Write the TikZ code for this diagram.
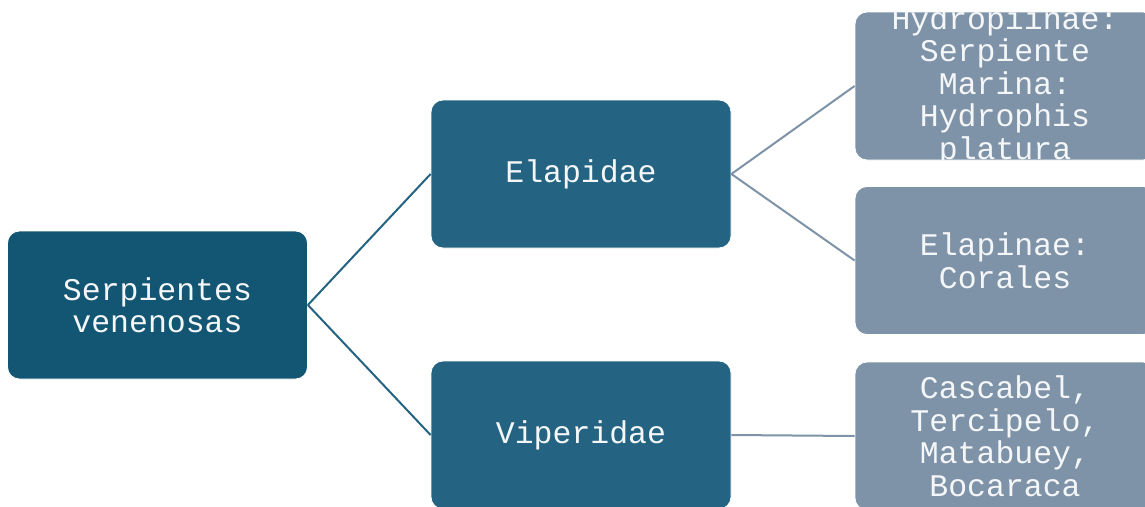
\documentclass[tikz,border=0pt]{standalone}
\usepackage{fontspec}
\setmonofont{Liberation Mono}
\usepackage{tikz}

\definecolor{rootblue}{HTML}{135673}
\definecolor{famblue}{HTML}{246482}
\definecolor{leafgray}{HTML}{7E93A8}
\definecolor{txt}{HTML}{F4F6F8}

\begin{document}
\begin{tikzpicture}[
      x=1pt,y=-1pt,
      box/.style={
        draw=white,line width=0.8pt,rounded corners=12pt,
        minimum width=300pt,minimum height=148pt,inner sep=0pt
      },
      label/.style={
        text=txt,align=center,inner sep=0pt,
        font=\ttfamily\fontsize{31.5}{32.5}\selectfont
      },
    ]
    \useasboundingbox (0,0) rectangle (1145,506);
    % snakes, families, species
    \node[box,fill=rootblue,label] (root) at (157.5,305) {Serpientes\\venenosas};
    \node[box,fill=famblue,label] (ela) at (581,174) {Elapidae};
    \node[box,fill=famblue,label] (vip) at (581,435) {Viperidae};
    \node[box,fill=leafgray] (hyd) at (1005,86) {};
    \node[box,fill=leafgray] (cor) at (1005,260.5) {};
    \node[box,fill=leafgray] (cas) at (1005,436) {};
    \begin{scope}
      \clip[rounded corners=12pt] (hyd.south west) rectangle (hyd.north east);
      \node[label] at (hyd) {Hydropiinae:\\Serpiente\\Marina:\\Hydrophis\\platura};
    \end{scope}
    \node[label] at (cor) {Elapinae:\\Corales};
    \node[label] at (cas) {Cascabel,\\Tercipelo,\\Matabuey,\\Bocaraca};
    \draw[line width=2pt,color=famblue] (root.east) -- (ela.west);
    \draw[line width=2pt,color=famblue] (root.east) -- (vip.west);
    \draw[line width=2pt,color=leafgray] (ela.east) -- (hyd.west);
    \draw[line width=2pt,color=leafgray] (ela.east) -- (cor.west);
    \draw[line width=2pt,color=leafgray] (vip.east) -- (cas.west);
  \end{tikzpicture}
\end{document}
